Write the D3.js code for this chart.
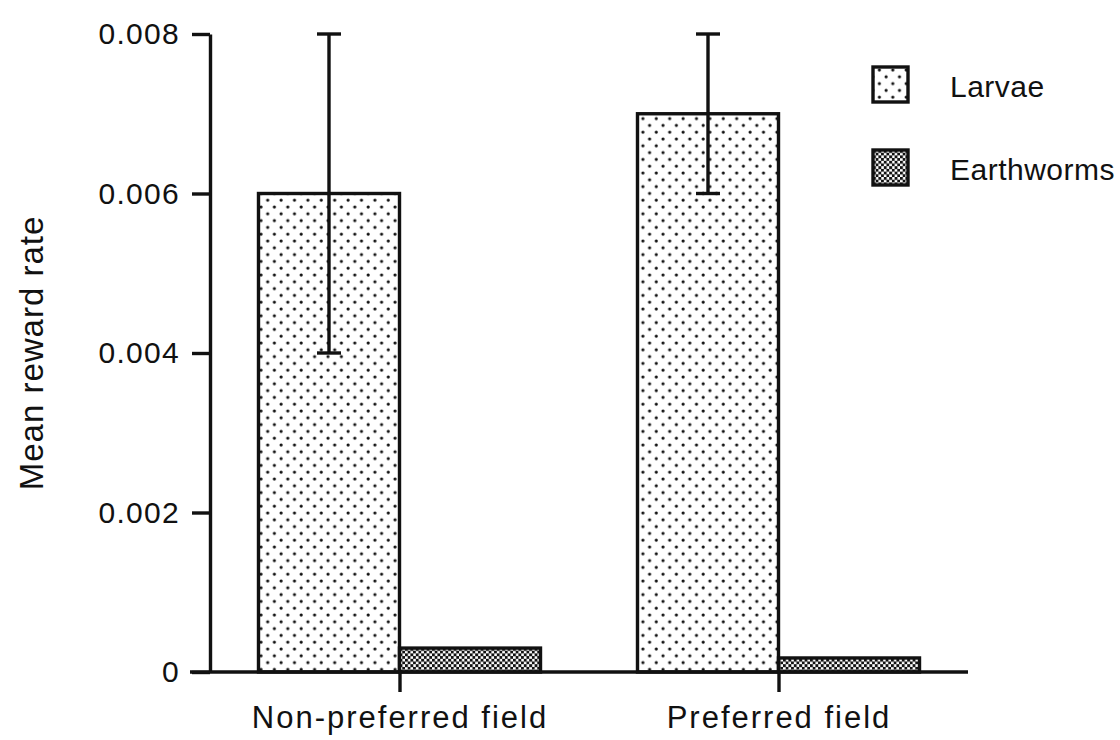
<!DOCTYPE html>
<html>
<head>
<meta charset="utf-8">
<script src="https://cdn.jsdelivr.net/npm/d3@7"></script>
<style>
  body { margin: 0; background: #fff; }
  svg text { font-family: "Liberation Sans", Arial, Helvetica, sans-serif; fill: #111; }
</style>
</head>
<body>
<div id="chart"></div>
<script>
'use strict'

// data
let categories = ["Non-preferred field", "Preferred field"];
let seriesNames = ["Larvae", "Earthworms"];
let larvae = [0.006, 0.007];
let larvaeErr = [0.002, 0.001];
let earthworms = [0.0003, 0.000176];
let yTicks = [0, 0.002, 0.004, 0.006, 0.008];
let yTickLabels = ["0", "0.002", "0.004", "0.006", "0.008"];

var width = 1120, height = 740;
var margin = {top: 34, right: 152, bottom: 68, left: 210};

var svg = d3.select("#chart").append("svg")
    .attr("width", width)
    .attr("height", height);

var defs = svg.append("defs");

// stipple for larvae: staggered dots
var dots = defs.append("pattern")
    .attr("id", "dots")
    .attr("patternUnits", "userSpaceOnUse")
    .attr("x", 257)
    .attr("y", 0)
    .attr("width", 13.4)
    .attr("height", 13.6);
dots.append("rect").attr("width", 13.4).attr("height", 13.6).attr("fill", "#fff");
dots.append("circle").attr("cx", 4).attr("cy", 3).attr("r", 1.6).attr("fill", "#111");
dots.append("circle").attr("cx", 10.7).attr("cy", 9.8).attr("r", 1.6).attr("fill", "#111");

// fine checker for earthworms
var checker = defs.append("pattern")
    .attr("id", "checker")
    .attr("patternUnits", "userSpaceOnUse")
    .attr("width", 5.4)
    .attr("height", 5.4);
checker.append("rect").attr("width", 5.4).attr("height", 5.4).attr("fill", "#fff");
checker.append("rect").attr("width", 2.9).attr("height", 2.9).attr("fill", "#111");
checker.append("rect").attr("x", 2.7).attr("y", 2.7).attr("width", 2.9).attr("height", 2.9).attr("fill", "#111");

var fills = {"Larvae": "url(#dots)", "Earthworms": "url(#checker)"};

var x = d3.scalePoint()
    .domain(categories)
    .range([margin.left, width - margin.right])
    .padding(0.5);

var xSub = d3.scaleBand()
    .domain(seriesNames)
    .range([-141, 141])
    .padding(0);

var y = d3.scaleLinear()
    .domain([0, 0.008])
    .range([height - margin.bottom, margin.top]);

var rows = [];
categories.forEach(function(c, i) {
  rows.push({cat: c, series: "Larvae", value: larvae[i], err: larvaeErr[i]});
  rows.push({cat: c, series: "Earthworms", value: earthworms[i], err: 0});
});

svg.append("g").selectAll("rect")
  .data(rows)
  .enter().append("rect")
    .attr("x", function(d) { return x(d.cat) + xSub(d.series); })
    .attr("y", function(d) { return y(d.value); })
    .attr("width", xSub.bandwidth())
    .attr("height", function(d) { return y(0) - y(d.value); })
    .attr("fill", function(d) { return fills[d.series]; })
    .attr("stroke", "#111")
    .attr("stroke-width", 3.4);

// error bars
var errRows = rows.filter(function(d) { return d.err > 0; });
var eb = svg.append("g").attr("stroke", "#111").attr("stroke-width", 3.4);
errRows.forEach(function(d) {
  var cx = x(d.cat) + xSub(d.series) + xSub.bandwidth() / 2;
  eb.append("line")
    .attr("x1", cx).attr("x2", cx)
    .attr("y1", y(d.value + d.err)).attr("y2", y(d.value - d.err));
  [d.value + d.err, d.value - d.err].forEach(function(v) {
    eb.append("line")
      .attr("x1", cx - 12).attr("x2", cx + 12)
      .attr("y1", y(v)).attr("y2", y(v));
  });
});

// axes
var yAxis = svg.append("g")
    .attr("transform", "translate(" + margin.left + ",0)")
    .call(d3.axisLeft(y)
      .tickValues(yTicks)
      .tickFormat(function(d, i) { return yTickLabels[i]; })
      .tickSize(18)
      .tickSizeOuter(0)
      .tickPadding(12));
yAxis.selectAll("path, line").attr("stroke", "#111").attr("stroke-width", 3.4);
yAxis.selectAll("text")
    .style("font-size", "30px")
    .style("letter-spacing", "1.3px")
    .attr("fill", "#111");

var xAxis = svg.append("g")
    .attr("transform", "translate(0," + y(0) + ")")
    .call(d3.axisBottom(x)
      .tickSize(20)
      .tickSizeOuter(0)
      .tickPadding(14));
xAxis.select(".domain").attr("d", "M" + (margin.left - 20) + ",0H" + (width - margin.right));
xAxis.selectAll("path, line").attr("stroke", "#111").attr("stroke-width", 3.4);
xAxis.selectAll("text")
    .style("font-size", "31px")
    .style("letter-spacing", "2px")
    .attr("fill", "#111");

// y axis title
svg.append("text")
    .attr("transform", "translate(43," + ((margin.top + y(0)) / 2) + ") rotate(-90)")
    .attr("text-anchor", "middle")
    .style("font-size", "33px")
    .style("letter-spacing", "1px")
    .text("Mean reward rate");

// legend
var legend = svg.append("g").attr("transform", "translate(873,67)");
var li = legend.selectAll("g")
  .data(seriesNames)
  .enter().append("g")
    .attr("transform", function(d, i) { return "translate(0," + (i * 83) + ")"; });
li.append("rect")
    .attr("width", 35)
    .attr("height", 35)
    .attr("fill", function(d) { return fills[d]; })
    .attr("stroke", "#111")
    .attr("stroke-width", 3.4);
li.append("text")
    .attr("x", 77)
    .attr("y", 30)
    .style("font-size", "30px")
    .style("letter-spacing", "0.5px")
    .text(function(d) { return d; });
</script>
</body>
</html>
